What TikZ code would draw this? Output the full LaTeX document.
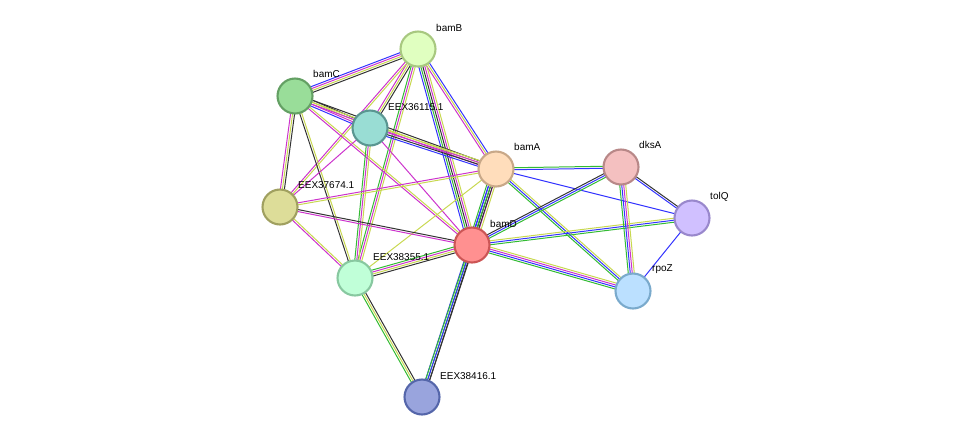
\documentclass[tikz,border=0pt]{standalone}
\usepackage{fontspec}
\setmainfont{Liberation Sans}
\usetikzlibrary{calc,backgrounds}

\definecolor{egreen}{HTML}{33BB33}
\definecolor{eblue}{HTML}{3333FF}
\definecolor{emag}{HTML}{CC33CC}
\definecolor{eyel}{HTML}{C8D850}
\definecolor{eblack}{HTML}{333333}

\newlength\pxu \setlength\pxu{0.853pt}
\tikzset{
  eg/.style={draw=egreen,line width=0.85pt},
  eb/.style={draw=eblue,line width=0.85pt},
  em/.style={draw=emag,line width=0.85pt},
  ey/.style={draw=eyel,line width=0.85pt},
  ek/.style={draw=eblack,line width=0.85pt},
  prot/.style={circle,minimum size=35\pxu,line width=1.8pt,inner sep=0pt},
  lab/.style={anchor=west,font=\fontsize{8.5}{10}\selectfont,inner sep=0pt}
}

% parallel coloured lines between two nodes
\newcommand\lnk[3]{%
  \foreach \c [count=\i] in {#3}{\xdef\nn{\i}}%
  \foreach \c [count=\i] in {#3}{%
    \pgfmathsetmacro\off{(\i-(\nn+1)/2)*1.7}%
    \draw[\c] ($(#1)!\off pt!90:(#2)$) -- ($(#2)!\off pt!-90:(#1)$);}}

\begin{document}
\begin{tikzpicture}[x=0.03cm,y=-0.03cm]
\useasboundingbox (0,0) rectangle (976,443);

\node[prot,fill={rgb,255:red,224;green,255;blue,192},draw={rgb,255:red,168;green,200;blue,128}] (bamB) at (418,49) {};
\node[prot,fill={rgb,255:red,153;green,221;blue,153},draw={rgb,255:red,100;green,160;blue,100}] (bamC) at (295,96) {};
\node[prot,fill={rgb,255:red,153;green,221;blue,212},draw={rgb,255:red,90;green,150;blue,145}] (e36115) at (370,128) {};
\node[prot,fill={rgb,255:red,255;green,221;blue,187},draw={rgb,255:red,200;green,168;blue,136}] (bamA) at (496,169) {};
\node[prot,fill={rgb,255:red,244;green,192;blue,192},draw={rgb,255:red,184;green,136;blue,136}] (dksA) at (621,167) {};
\node[prot,fill={rgb,255:red,208;green,192;blue,255},draw={rgb,255:red,153;green,136;blue,204}] (tolQ) at (692,218) {};
\node[prot,fill={rgb,255:red,221;green,221;blue,153},draw={rgb,255:red,160;green,160;blue,96}] (e37674) at (280,207) {};
\node[prot,fill={rgb,255:red,255;green,144;blue,144},draw={rgb,255:red,204;green,85;blue,85}] (bamD) at (472,245) {};
\node[prot,fill={rgb,255:red,192;green,255;blue,216},draw={rgb,255:red,136;green,200;blue,160}] (e38355) at (355,278) {};
\node[prot,fill={rgb,255:red,187;green,224;blue,255},draw={rgb,255:red,122;green,170;blue,204}] (rpoZ) at (633,291) {};
\node[prot,fill={rgb,255:red,153;green,164;blue,221},draw={rgb,255:red,85;green,102;blue,170}] (e38416) at (422,397) {};

\node[lab] (lbamB) at ($(bamB)+(18,-21)$) {bamB};
\node[lab] (lbamC) at ($(bamC)+(18,-22)$) {bamC};
\node[lab] (l36115) at ($(e36115)+(18,-21)$) {EEX36115.1};
\node[lab] (lbamA) at ($(bamA)+(18,-22)$) {bamA};
\node[lab] (ldksA) at ($(dksA)+(18,-22)$) {dksA};
\node[lab] (ltolQ) at ($(tolQ)+(18,-21)$) {tolQ};
\node[lab] (l37674) at ($(e37674)+(18,-22)$) {EEX37674.1};
\node[lab] (lbamD) at ($(bamD)+(18,-21)$) {bamD};
\node[lab] (l38355) at ($(e38355)+(18,-21)$) {EEX38355.1};
\node[lab] (lrpoZ) at ($(rpoZ)+(19,-22)$) {rpoZ};
\node[lab] (l38416) at ($(e38416)+(18,-21)$) {EEX38416.1};

\begin{pgfonlayer}{background}
\lnk{bamB}{bamC}{eb,em,ey,ek}
\lnk{bamB}{e36115}{em,ey,ek}
\lnk{bamB}{bamA}{em,ey,eb}
\lnk{bamB}{bamD}{eb,eg,ek,em,ey}
\lnk{bamB}{e38355}{eg,em,ey}
\lnk{bamB}{e37674}{em,ey}
\lnk{bamC}{e36115}{eb,em,ey,ek}
\lnk{bamC}{bamA}{em,ey,ek}
\lnk{bamC}{bamD}{em,ey}
\lnk{bamC}{e37674}{em,ey,ek}
\lnk{bamC}{e38355}{ek,ey}
\lnk{e36115}{bamA}{eb,ek,em,ey}
\lnk{e36115}{bamD}{em}
\lnk{e36115}{e37674}{em}
\lnk{e36115}{e38355}{eg,em,ey}
\lnk{bamA}{bamD}{eg,eb,ek,em,ey}
\lnk{bamA}{dksA}{eb,eg}
\lnk{bamA}{tolQ}{eb}
\lnk{bamA}{rpoZ}{eg,eb,ey}
\lnk{bamA}{e37674}{em,ey}
\lnk{bamA}{e38355}{ey}
\lnk{bamA}{e38416}{eb,eg,ek}
\lnk{bamD}{e37674}{ek,em}
\lnk{bamD}{e38355}{eg,em,ey,ek}
\lnk{bamD}{e38416}{eg,eb,ek}
\lnk{bamD}{dksA}{eg,eb,ek}
\lnk{bamD}{tolQ}{eg,eb,ey}
\lnk{bamD}{rpoZ}{eg,eb,em,ey}
\lnk{e37674}{e38355}{em,ey}
\lnk{e38355}{e38416}{eg,ey,ek}
\lnk{dksA}{tolQ}{eb,ek}
\lnk{dksA}{rpoZ}{eg,eb,em,ey}
\lnk{tolQ}{rpoZ}{eb}
\end{pgfonlayer}
\end{tikzpicture}
\end{document}
